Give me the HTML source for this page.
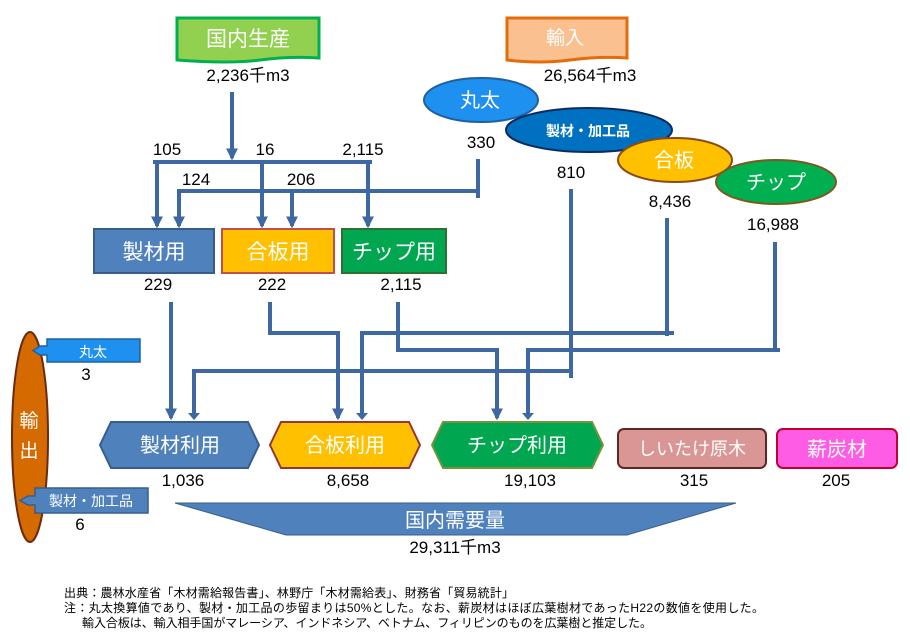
<!DOCTYPE html>
<html><head><meta charset="utf-8"><style>
html,body{margin:0;padding:0;background:#fff;}
svg{display:block;font-family:"Liberation Sans","Noto Sans CJK JP",sans-serif;}
.n{font-size:17px;fill:#000;text-anchor:middle;}
.w{fill:#fff;text-anchor:middle;}
.f{font-size:12px;fill:#000;}
</style></head><body>
<svg width="910" height="639" viewBox="0 0 910 639">
<defs>
<marker id="a" viewBox="0 0 10 10" refX="8" refY="5" markerWidth="3" markerHeight="3" orient="auto"><path d="M0,0 L10,5 L0,10 z" fill="#3e68a2"/></marker>
</defs>
<path d="M177,18 H319 V58 Q290,56 260,60 Q230,64 177,60 Z" fill="#92d050" stroke="#00b050" stroke-width="3"/>
<text x="248" y="46" class="w" font-size="21">国内生産</text>
<text x="248" y="81" class="n">2,236千m3</text>
<path d="M507,18 H627 V58 Q600,56 570,60 Q540,64 507,60 Z" fill="#fac090" stroke="#e46c0a" stroke-width="3"/>
<text x="565" y="44" class="w" font-size="19">輸入</text>
<text x="590" y="81" class="n">26,564千m3</text>
<ellipse cx="481" cy="100" rx="57" ry="22" fill="#1e90f0" stroke="#2060a0" stroke-width="2"/>
<text x="480" y="107" class="w" font-size="20">丸太</text>
<text x="481" y="148" class="n">330</text>
<ellipse cx="589" cy="130" rx="83" ry="22" fill="#0070c0" stroke="#0c2c60" stroke-width="2"/>
<text x="588" y="136" class="w" font-size="14" font-weight="bold">製材・加工品</text>
<text x="571" y="178" class="n">810</text>
<ellipse cx="675" cy="160" rx="57" ry="22" fill="#ffc000" stroke="#8b4b10" stroke-width="2"/>
<text x="674" y="167" class="w" font-size="20">合板</text>
<text x="670" y="207" class="n">8,436</text>
<ellipse cx="776" cy="182" rx="60" ry="22" fill="#00b050" stroke="#7a5a20" stroke-width="2"/>
<text x="776" y="189" class="w" font-size="20">チップ</text>
<text x="773" y="230" class="n">16,988</text>
<text x="167" y="155" class="n">105</text>
<text x="265" y="155" class="n">16</text>
<text x="363" y="155" class="n">2,115</text>
<text x="196" y="185" class="n">124</text>
<text x="301" y="185" class="n">206</text>
<g stroke="#3e68a2" stroke-width="4" fill="none">
<line x1="232" y1="92" x2="232" y2="158" marker-end="url(#a)"/>
<line x1="153" y1="162" x2="372" y2="162"/>
<line x1="157" y1="162" x2="157" y2="226" marker-end="url(#a)"/>
<line x1="262" y1="162" x2="262" y2="226" marker-end="url(#a)"/>
<line x1="368" y1="162" x2="368" y2="226" marker-end="url(#a)"/>
<line x1="177" y1="191" x2="480" y2="191"/>
<line x1="478" y1="159" x2="478" y2="198"/>
<line x1="179" y1="191" x2="179" y2="226" marker-end="url(#a)"/>
<line x1="292" y1="191" x2="292" y2="226" marker-end="url(#a)"/>
<line x1="171" y1="302" x2="171" y2="418" marker-end="url(#a)"/>
<polyline points="194,418 194,371 571,371"/>
<line x1="571" y1="189" x2="571" y2="378"/>
<polyline points="270,302 270,333 338,333 338,418" marker-end="url(#a)"/>
<polyline points="362,418 362,333 674,333"/>
<line x1="667" y1="218" x2="667" y2="336"/>
<polyline points="398,302 398,350 497,350 497,418" marker-end="url(#a)"/>
<polyline points="528,418 528,350 780,350"/>
<line x1="775" y1="242" x2="775" y2="352"/>
</g>
<g fill="#3e68a2">
<path d="M188,413 L200,413 L194,420 Z"/><path d="M356,413 L368,413 L362,420 Z"/><path d="M522,413 L534,413 L528,420 Z"/>
</g>
<rect x="94" y="229" width="120" height="44" fill="#4f81bd" stroke="#385d8a" stroke-width="2"/>
<text x="154" y="259" class="w" font-size="21">製材用</text>
<text x="158" y="290" class="n">229</text>
<rect x="222" y="229" width="112" height="44" fill="#ffc000" stroke="#c0504d" stroke-width="2"/>
<text x="278" y="259" class="w" font-size="21">合板用</text>
<text x="272" y="290" class="n">222</text>
<rect x="342" y="229" width="104" height="44" fill="#00a650" stroke="#2f6f2f" stroke-width="2"/>
<text x="394" y="259" class="w" font-size="21">チップ用</text>
<text x="401" y="290" class="n">2,115</text>
<path d="M111,422 H248 L259,445 L248,468 H111 L100,445 Z" fill="#4f81bd" stroke="#385d8a" stroke-width="2"/>
<text x="180" y="452" class="w" font-size="20">製材利用</text>
<text x="183" y="486" class="n">1,036</text>
<path d="M281,422 H409 L420,445 L409,468 H281 L270,445 Z" fill="#ffc000" stroke="#943634" stroke-width="2"/>
<text x="345" y="452" class="w" font-size="20">合板利用</text>
<text x="348" y="486" class="n">8,658</text>
<path d="M443,422 H592 L603,445 L592,468 H443 L432,445 Z" fill="#00a650" stroke="#77933c" stroke-width="2"/>
<text x="517" y="452" class="w" font-size="20">チップ利用</text>
<text x="530" y="486" class="n">19,103</text>
<rect x="618" y="429" width="148" height="39" rx="6" fill="#d99694" stroke="#632523" stroke-width="2"/>
<text x="692" y="455" class="w" font-size="18">しいたけ原木</text>
<text x="694" y="486" class="n">315</text>
<rect x="777" y="429" width="120" height="39" rx="6" fill="#ff5ce6" stroke="#c00030" stroke-width="2"/>
<text x="837" y="456" class="w" font-size="20">薪炭材</text>
<text x="836" y="486" class="n">205</text>
<path d="M175,503 H736 L627,535 H286 Z" fill="#4f81bd" stroke="#385d8a" stroke-width="1"/>
<text x="455" y="527" class="w" font-size="20">国内需要量</text>
<text x="455" y="553" class="n">29,311千m3</text>
<ellipse cx="30" cy="437" rx="18" ry="105" fill="#d46a00" stroke="#6b2a10" stroke-width="2"/>
<text x="29" y="427" class="w" font-size="19">輸</text>
<text x="29" y="457" class="w" font-size="19">出</text>
<path d="M47,339 H140 V362 H47 V355 H40 L33,350.5 L40,346 H47 Z" fill="#1e90f0" stroke="#2060a0" stroke-width="1.5"/>
<text x="93" y="357" class="w" font-size="14">丸太</text>
<text x="86" y="380" class="n">3</text>
<path d="M35,488 H148 V513 H35 V505 H28 L20,500.5 L28,496 H35 Z" fill="#4f81bd" stroke="#385d8a" stroke-width="1.5"/>
<text x="91" y="506" class="w" font-size="14">製材・加工品</text>
<text x="80" y="530" class="n">6</text>
<text x="64" y="597" class="f" textLength="450">出典：農林水産省「木材需給報告書」、林野庁「木材需給表」、財務省「貿易統計」</text>
<text x="64" y="612" class="f" textLength="700">注：丸太換算値であり、製材・加工品の歩留まりは50%とした。なお、薪炭材はほぼ広葉樹材であったH22の数値を使用した。</text>
<text x="82" y="627" class="f" textLength="570">輸入合板は、輸入相手国がマレーシア、インドネシア、ベトナム、フィリピンのものを広葉樹と推定した。</text>
</svg>
</body></html>
